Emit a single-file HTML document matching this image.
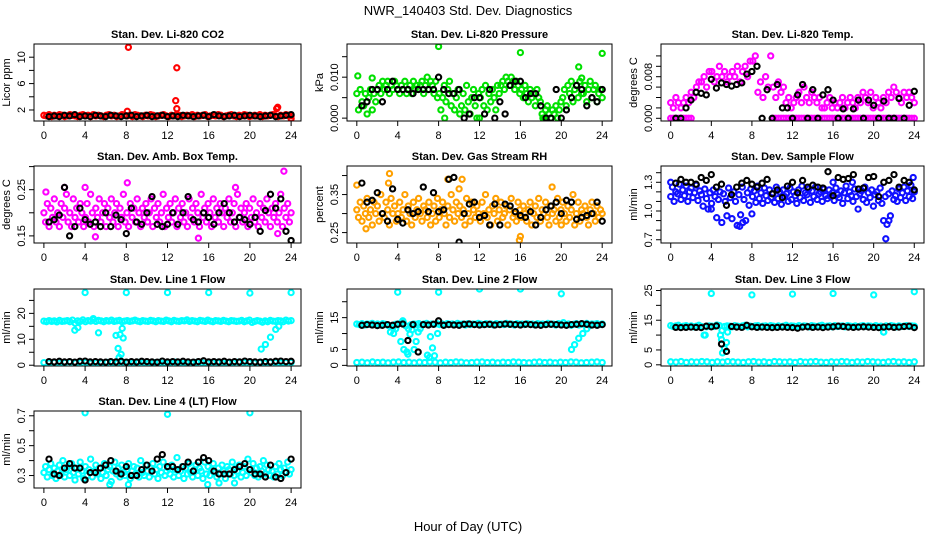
<!DOCTYPE html>
<html><head><meta charset="utf-8"><style>
html,body{margin:0;padding:0;background:#fff;}
svg{display:block;font-family:"Liberation Sans",sans-serif;}
</style></head><body>
<svg id="chart" width="936" height="540" viewBox="0 0 936 540" xmlns="http://www.w3.org/2000/svg">
<rect width="936" height="540" fill="#fff"/>
<text x="468" y="15" text-anchor="middle" font-size="13">NWR_140403  Std. Dev. Diagnostics</text>
<text x="468" y="531" text-anchor="middle" font-size="13">Hour of Day (UTC)</text>
</svg>
<script>
// ---- data ----
const hourTicks = [0,4,8,12,16,20,24];
// CO2
const co2Color = [1.2,1.1,1.3,1.0,1.2,1.1,1.3,1.2,1.0,1.1,1.3,1.2,1.1,1.0,1.2,1.3,1.1,1.2,1.0,1.3,1.1,1.2,1.1,1.0,1.2,1.3,1.1,1.2,1.0,1.1,1.3,1.2,1.1,1.2,1.0,1.3,1.2,1.1,1.0,1.2,1.1,1.3,1.2,1.0,1.1,1.2,1.3,1.1,1.0,1.2,1.1,1.3,1.2,1.0,1.1,1.2,1.1,1.3,1.0,1.2,1.1,1.2,1.3,1.0,1.1,1.2,1.1,1.3,1.2,1.0,1.1,1.2,1.3,1.1,1.0,1.2,1.1,1.3,1.2,1.0,1.1,1.2,1.1,1.3,1.0,1.2,1.1,1.2,1.3,1.1,1.0,1.2,1.1,1.3,1.2,1.1];
const co2ExtraHours = [8.2,8.1,12.9,12.8,12.9,22.7,22.6,24.0];
const co2Extra = [11.5,1.8,8.4,3.4,2.2,2.4,2.2,0.7];
const co2Black = [1.0,1.1,1.0,1.2,1.1,1.3,1.0,1.1,1.0,1.2,1.1,1.0,1.2,1.1,1.0,1.1,1.2,1.0,1.1,1.2,1.0,1.1,1.2,1.0,1.1,1.0,1.2,1.1,1.0,1.1,1.2,1.0,1.3,1.1,1.0,1.1,1.2,1.0,1.1,1.2,1.1,1.0,1.1,1.2,1.0,1.1,1.2,1.3];
// Pressure
const presColor = [0.006,0.002,0.007,0.004,0.003,0.006,0.001,0.005,0.007,0.002,0.006,0.004,
0.007,0.008,0.006,0.009,0.007,0.008,0.009,0.006,0.008,0.007,0.009,0.008,
0.007,0.006,0.008,0.007,0.009,0.006,0.007,0.008,0.006,0.009,0.007,0.008,
0.007,0.008,0.009,0.006,0.008,0.010,0.007,0.009,0.008,0.006,0.009,0.005,
0.006,0.002,0.005,0.008,0.004,0.007,0.009,0.003,0.006,0.002,0.005,0.007,
0.001,0.003,0.006,0.002,0.008,0.004,0.001,0.005,0.007,0.003,0.000,0.006,
0.005,0.007,0.003,0.008,0.002,0.006,0.004,0.007,0.005,0.002,0.008,0.006,
0.008,0.009,0.007,0.010,0.009,0.008,0.010,0.009,0.007,0.009,0.008,0.006,
0.007,0.005,0.008,0.006,0.004,0.007,0.005,0.006,0.003,0.007,0.005,0.004,
0.001,0.000,0.002,0.003,0.001,0.000,0.002,0.001,0.003,0.000,0.002,0.004,
0.005,0.007,0.003,0.008,0.006,0.009,0.004,0.007,0.008,0.005,0.009,0.006,
0.006,0.008,0.004,0.007,0.009,0.005,0.007,0.008,0.004,0.006,0.007,0.005];
const presExtraHours = [0.1,1.5,8.0,16.0,24.0,21.7,22.0,8.6,12.0,18.2];
const presExtra = [0.0103,0.0098,0.0175,0.016,0.0158,0.0125,0.0098,0.0,0.0,0.0];
const presBlack = [0.003,0.004,0.007,0.007,0.004,0.007,0.009,0.007,0.007,0.007,0.006,0.007,0.007,0.007,0.007,0.010,0.007,0.006,0.006,0.007,0.0,0.001,0.005,0.005,0.001,0.007,0.0,0.004,0.001,0.008,0.009,0.009,0.005,0.006,0.006,0.003,0.0,0.0,0.007,0.0,0.002,0.005,0.008,0.007,0.003,0.005,0.004,0.007];
// Li-820 temp
const tempColor = [0.003,0.002,0.004,0.003,0.002,0.003,0.004,0.003,
0.005,0.004,0.006,0.007, 0.007,0.008,0.006,0.009, 0.009,0.007,0.008,0.010, 0.008,0.009,0.007,0.008,
0.009,0.008,0.010,0.007, 0.009,0.010,0.008,0.011, 0.011,0.012,0.005,0.007, 0.004,0.008,0.006,0.012,
0.006,0.004,0.007,0.005, 0.006,0.003,0.004,0.002, 0.003,0.004,0.005,0.003, 0.006,0.004,0.003,0.005,
0.004,0.003,0.004,0.002, 0.002,0.003,0.004,0.002, 0.003,0.002,0.003,0.004, 0.002,0.003,0.004,0.003,
0.002,0.004,0.003,0.005, 0.004,0.003,0.005,0.002, 0.004,0.003,0.002,0.004, 0.003,0.005,0.004,0.006,
0.005,0.004,0.003,0.005, 0.004,0.005,0.004,0.003];
const tempZero = [0,0,0,0,0,0,0,0,0,null,null,null,null,null,null,null,null,null,null,null,null,null,null,null,null,null,null,null,null,null,null,null,null,null,null,null,null,null,null,null,0,0,0,0,0,0,0,0,0,0,0,0,0,0,0,0,0,0,0,0,0,0,0,0,0,0,0,0,0,0,0,0,0,0,0,0,0,0,0,0,0,0,0,0,0,0,0,0,0,0,0,0,0,0,0,0];
const tempBlack = [0.0,0.0,0.002,0.0035,0.005,0.0048,0.0045,0.0075,0.0058,0.0068,0.0065,0.0062,0.0065,0.0068,0.0085,0.0090,0.0100,0.0,0.0055,0.0,0.0065,0.002,0.002,0.0,0.0045,0.0065,0.0,0.0055,0.0,0.0045,0.0055,0.0035,0.0,0.0018,0.0,0.0018,0.0035,0.0,0.0035,0.0025,0.0,0.0033,0.0,0.0,0.0038,0.0,0.0025,0.0052];
// Amb box temp
const ambColor = [.20,.18,.22,.17,.21,.19,.23,.18,.20,.17,.22,.19,
.21,.24,.18,.20,.17,.23,.19,.21,.18,.22,.20,.17,
.19,.22,.18,.24,.20,.17,.21,.19,.23,.18,.20,.22,
.17,.21,.19,.23,.18,.20,.22,.17,.21,.19,.24,.18,
.20,.17,.22,.19,.21,.18,.23,.20,.17,.21,.19,.22,
.18,.20,.23,.17,.21,.19,.22,.18,.20,.24,.17,.21,
.19,.22,.18,.20,.23,.17,.21,.19,.22,.18,.20,.17,
.23,.19,.21,.18,.22,.20,.17,.24,.19,.21,.18,.22,
.20,.17,.23,.19,.21,.18,.22,.20,.17,.21,.19,.23,
.18,.20,.22,.17,.24,.19,.21,.18,.20,.22,.17,.21,
.19,.23,.18,.20,.17,.22,.19,.21,.18,.23,.20,.17,
.21,.19,.22,.18,.20,.24,.17,.21,.19,.22,.18,.20];
const ambExtraHours = [0.2,2.0,8.1,4.0,15.0,23.3,18.6,5.0,22.7];
const ambExtra = [0.245,0.255,0.265,0.255,0.145,0.29,0.255,0.148,0.155];
const ambBlack = [0.18,0.185,0.195,0.255,0.15,0.17,0.21,0.185,0.175,0.18,0.17,0.2,0.17,0.195,0.185,0.155,0.21,0.18,0.175,0.2,0.235,0.175,0.17,0.175,0.2,0.175,0.2,0.235,0.185,0.18,0.2,0.19,0.175,0.2,0.22,0.2,0.18,0.19,0.185,0.175,0.19,0.16,0.205,0.24,0.21,0.23,0.16,0.14];
// RH
const rhColor = [.31,.29,.33,.28,.32,.30,.34,.29,.31,.27,.33,.30,
.32,.28,.35,.30,.29,.33,.31,.27,.34,.30,.32,.28,
.30,.33,.29,.31,.35,.28,.32,.30,.27,.33,.29,.31,
.34,.30,.28,.32,.31,.29,.33,.27,.30,.32,.28,.34,
.29,.31,.33,.30,.27,.32,.29,.35,.31,.28,.33,.30,
.32,.29,.31,.27,.34,.30,.28,.33,.31,.29,.32,.30,
.28,.33,.30,.35,.29,.31,.27,.32,.30,.34,.28,.31,
.33,.29,.30,.32,.27,.31,.34,.29,.30,.28,.33,.31,
.29,.32,.30,.28,.31,.33,.27,.30,.32,.29,.34,.28,
.31,.30,.33,.29,.27,.32,.30,.31,.28,.34,.29,.31,
.33,.30,.28,.32,.29,.31,.35,.27,.30,.33,.28,.31,
.30,.32,.29,.27,.31,.33,.30,.28,.32,.29,.31,.30];
const rhExtraHours = [0.0,3.2,3.1,8.9,10.3,10.0,15.9,16.0,19.1,0.9,20.0];
const rhExtra = [0.375,0.405,0.38,0.39,0.39,0.365,0.23,0.24,0.37,0.26,0.27];
const rhBlack = [0.38,0.33,0.335,0.355,0.30,0.28,0.365,0.285,0.275,0.31,0.30,0.305,0.37,0.305,0.355,0.305,0.31,0.39,0.395,0.225,0.30,0.325,0.33,0.29,0.295,0.27,0.325,0.27,0.325,0.32,0.305,0.295,0.29,0.305,0.27,0.29,0.31,0.32,0.33,0.30,0.335,0.33,0.285,0.29,0.295,0.30,0.33,0.28];
// Sample flow
const flowColor = [1.15,1.25,1.10,1.20,1.18,1.28,1.12,1.22,1.16,1.26,1.10,1.20,
1.24,1.14,1.19,1.27,1.11,1.21,1.17,1.05,1.23,1.13,1.02,1.19,
1.08,1.22,1.15,0.93,1.12,1.20,0.88,1.18,1.10,0.95,1.24,1.14,
0.92,1.20,1.10,0.85,1.17,0.96,1.25,1.12,0.90,1.19,1.06,1.23,
1.15,1.21,1.09,1.26,1.13,1.19,1.08,1.24,1.16,1.11,1.22,1.14,
1.18,1.09,1.25,1.13,1.20,1.07,1.22,1.15,1.18,1.10,1.24,1.12,
1.20,1.16,1.08,1.22,1.14,1.26,1.11,1.19,1.17,1.23,1.09,1.21,
1.15,1.25,1.12,1.18,1.20,1.10,1.23,1.16,1.13,1.22,1.15,1.19,
1.11,1.24,1.17,1.14,1.21,1.08,1.19,1.26,1.13,1.20,1.16,1.10,
1.23,1.15,1.02,1.18,1.21,1.12,1.25,1.09,1.19,1.14,1.22,1.05,
1.17,1.20,1.11,1.24,1.08,0.90,1.15,0.86,1.18,0.95,1.21,1.12,
1.16,1.10,1.23,1.14,1.19,1.25,1.11,1.21,1.15,1.27,1.13,1.20];
const flowExtraHours = [21.2,6.8,7.1,21.5,0.0,16.0,17.9,23.9,8.0,4.0];
const flowExtra = [0.71,0.84,0.88,0.90,1.30,1.30,1.30,1.35,0.97,1.02];
const flowBlack = [1.29,1.33,1.30,1.30,1.28,1.35,1.32,1.38,1.25,1.28,1.06,1.17,1.25,1.29,1.32,1.28,1.25,1.29,1.33,1.18,1.22,1.14,1.26,1.30,1.19,1.32,1.25,1.27,1.25,1.24,1.41,1.16,1.35,1.33,1.34,1.38,1.23,1.24,1.35,1.36,1.15,1.30,1.32,1.38,1.25,1.32,1.30,1.22];
// Line 1
const l1Upper = [17.0,16.8,17.2,16.9,17.1,16.7,17.3,16.9,17.0,17.2,16.8,17.4,16.2,17.1,16.9,17.5,16.8,17.2,17.0,17.6,16.9,17.3,17.1,16.8,17.2,17.0,17.4,16.9,17.1,17.3,16.8,17.0,17.2,16.9,17.1,17.4,17.0,16.8,17.2,17.0,16.9,17.3,17.1,16.8,17.2,17.0,16.9,17.4,17.1,16.8,17.3,17.0,16.9,17.2,17.1,17.5,16.9,17.2,17.0,16.8,17.3,17.1,16.9,17.4,17.0,16.8,17.2,17.1,16.9,17.3,17.0,16.8,17.2,17.1,16.9,17.0,17.3,16.8,17.1,17.4,16.5,16.9,17.2,17.0,16.6,17.1,16.8,17.3,17.0,16.9,17.2,17.1,16.8,17.4,17.0,17.2];
const l1Lower = [1.0,0.9,1.1,0.8,1.0,1.2,0.9,1.0,1.1,0.8,1.0,0.9,1.1,1.0,0.8,1.2,1.0,0.9,1.1,1.0,0.8,1.0,1.1,0.9,1.0,1.2,0.9,1.0,0.8,1.1,1.0,0.9,1.0,1.1,0.8,1.0,0.9,1.2,1.0,1.1,0.9,1.0,0.8,1.1,1.0,0.9,1.0,1.1];
const l1ExtraHours = [3.0,3.3,5.3,7.0,7.2,7.4,7.6,7.5,7.3,7.7,4.0,8.0,12.0,16.0,20.0,24.0,21.1,21.5,22.0,22.5,22.8,4.8];
const l1Extra = [13.5,14.5,12.5,11.5,6.5,11.8,14.2,4.2,3.0,10.5,28,28,28,28,27.8,28,6.2,8.0,10.8,13.8,15.0,18.0];
const l1Black = [1.4,1.3,1.5,1.3,1.4,1.2,1.5,1.6,1.3,1.4,1.3,1.2,1.4,1.3,1.5,1.2,1.4,1.3,1.5,1.4,1.3,1.2,1.6,1.3,1.4,1.3,1.5,1.3,1.2,1.4,1.7,1.3,1.4,1.3,1.5,1.2,1.4,1.3,1.6,1.4,1.3,1.2,1.4,1.3,1.5,1.6,1.4,1.5];
// Line 2
const l2Upper = [13.0,12.8,13.1,12.7,13.0,12.9,13.2,12.8,13.0,12.7,13.1,12.9,12.6,10.5,11.8,12.9,13.0,13.2,13.5,12.4,11.5,12.8,13.0,12.9,13.1,12.7,13.0,13.2,12.8,13.0,12.9,13.1,12.8,13.0,12.7,13.1,12.9,13.0,12.8,13.2,12.9,13.0,12.7,13.1,12.8,13.0,12.9,13.2,13.0,12.8,13.1,12.9,13.0,12.7,13.1,12.9,13.0,12.8,13.2,12.9,13.0,12.7,13.1,12.9,13.0,12.8,13.1,12.9,13.0,12.7,13.1,12.9,13.0,12.8,13.2,12.9,13.0,12.7,13.1,12.9,13.4,12.8,13.0,12.6,12.9,13.1,12.7,13.0,12.9,13.2,12.8,13.0,12.9,13.1,12.8,13.0];
const l2Lower = [0.9,1.0,0.8,1.1,0.9,1.0,0.8,1.0,1.1,0.9,1.0,0.8,1.0,0.9,1.1,1.0,0.8,1.0,0.9,1.1,1.0,0.8,0.9,1.0,1.1,0.9,1.0,0.8,1.0,0.9,1.1,1.0,0.9,0.8,1.0,1.1,0.9,1.0,0.8,1.0,0.9,1.1,1.0,0.8,0.9,1.0,1.1,0.9];
const l2ExtraHours = [3.6,3.8,4.0,4.3,4.6,4.9,5.0,5.2,5.4,5.6,5.8,6.0,6.2,6.9,7.1,7.2,7.4,7.6,7.9,8.0,12.0,16.0,20.0,24.0,21.0,21.3,21.7,22.1,22.5,22.8,4.5];
const l2Extra = [10.0,11.5,23,7.5,5.0,4.2,3.5,9.8,11.2,5.0,7.5,10.5,11.5,3.2,2.5,9.0,5.5,3.0,10.0,23,24,24,22.5,25.2,5.0,6.5,8.5,10.0,11.5,12.5,14.0];
const l2Black = [12.6,12.8,12.7,12.5,12.6,12.8,12.6,12.9,13.0,7.8,12.8,4.2,12.8,12.7,12.9,14.0,12.6,12.8,12.7,12.6,12.9,13.0,12.8,12.7,12.8,12.9,12.7,12.8,13.0,12.9,12.8,12.7,12.9,12.8,12.7,12.6,12.8,12.9,12.8,12.7,12.6,12.8,12.9,13.1,12.9,12.7,12.6,12.8];
// Line 3
const l3Upper = [13.2,12.9,13.1,13.3,12.8,13.0,13.2,12.9,13.1,12.8,13.0,13.3,12.9,10.0,12.8,13.1,13.0,12.9,13.4,13.2,11.5,12.9,13.1,13.0,12.8,13.2,13.0,12.9,13.1,13.3,12.8,13.0,12.9,13.1,13.2,12.8,13.0,13.1,12.9,13.2,13.0,12.8,13.1,12.9,13.0,13.3,12.9,13.1,13.0,12.8,13.2,12.9,13.1,13.0,12.8,13.2,13.0,12.9,13.1,13.3,12.9,13.0,13.1,12.8,13.2,12.9,13.0,13.1,12.8,13.2,13.0,12.9,13.1,12.8,13.0,13.2,12.9,13.1,13.0,12.8,13.2,12.9,13.0,11.0,13.1,12.9,13.2,13.0,12.8,13.1,12.9,13.0,13.2,12.9,13.1,13.0];
const l3Lower = [1.0,0.9,1.1,0.8,1.0,0.9,1.1,1.0,0.8,1.0,0.9,1.1,1.0,0.9,0.8,1.0,1.1,0.9,1.0,0.8,1.1,1.0,0.9,1.0,0.8,1.1,0.9,1.0,1.1,0.9,0.8,1.0,0.9,1.1,1.0,0.8,1.0,0.9,1.1,1.0,0.9,0.8,1.0,1.1,0.9,1.0,0.8,1.0];
const l3ExtraHours = [4.0,4.9,5.0,5.1,5.3,5.5,5.6,3.4,8.0,12.0,16.0,20.0,24.0,21.0];
const l3Extra = [24,10,8.5,4,5.5,7.5,11,10,23.5,23.8,24,23.5,24.6,11];
const l3Black = [12.6,12.5,12.6,12.7,12.6,12.5,13.0,12.8,13.1,7.0,4.5,12.9,12.7,12.6,13.3,12.8,12.6,12.7,12.6,12.5,12.6,12.7,12.6,12.5,12.3,12.7,12.8,12.6,12.7,12.5,12.7,12.8,13.0,12.9,12.7,12.6,12.7,12.8,12.7,12.6,12.5,12.7,12.8,12.6,12.7,12.9,13.0,12.5];
// Line 4
const l4Color = [.32,.36,.29,.34,.38,.30,.35,.28,.33,.37,.31,.40,
.29,.34,.36,.30,.38,.32,.27,.35,.31,.39,.33,.28,
.36,.30,.34,.41,.29,.33,.37,.31,.35,.28,.32,.38,
.30,.34,.36,.26,.33,.39,.31,.35,.29,.37,.32,.30,
.34,.38,.28,.33,.36,.31,.35,.29,.40,.32,.30,.37,
.33,.29,.35,.38,.31,.34,.28,.36,.32,.39,.30,.33,
.35,.31,.37,.29,.34,.42,.30,.33,.36,.28,.35,.31,
.38,.32,.29,.34,.37,.30,.35,.33,.28,.39,.31,.36,
.30,.34,.38,.32,.29,.35,.31,.37,.33,.28,.36,.34,
.31,.39,.30,.35,.33,.37,.29,.32,.36,.30,.41,.34,
.32,.38,.30,.35,.29,.36,.33,.40,.31,.37,.34,.30,
.33,.29,.36,.31,.38,.34,.30,.35,.32,.39,.31,.34];
const l4ExtraHours = [4.0,12.0,20.0,6.4,8.2,15.9,17.0,18.5];
const l4Extra = [0.72,0.71,0.72,0.24,0.24,0.24,0.25,0.25];
const l4Black = [0.41,0.31,0.30,0.35,0.38,0.35,0.35,0.27,0.32,0.32,0.35,0.37,0.40,0.33,0.31,0.36,0.30,0.30,0.34,0.37,0.33,0.41,0.44,0.36,0.36,0.34,0.36,0.39,0.33,0.39,0.42,0.40,0.33,0.31,0.31,0.31,0.34,0.36,0.38,0.34,0.31,0.31,0.29,0.37,0.29,0.28,0.32,0.41];

// ---- layout ----
const NS = 'http://www.w3.org/2000/svg';
const svg = document.getElementById('chart');
const colL = [34,347,661], colR = [301,612,924];
const rowT = [44,166,289,411], boxH = 77;

const panels = [
 {name:'co2', title:'Stan. Dev. Li-820 CO2', ylab:'Licor ppm', col:0,row:0, ymin:0.33,ymax:12.0, ticks:[2,4,6,8,10], labels:['2','','6','','10'], color:'#ff0000',
  series:[co2Color], extraH:co2ExtraHours, extra:co2Extra, black:co2Black},
 {name:'pressure', title:'Stan. Dev. Li-820 Pressure', ylab:'kPa', col:1,row:0, ymin:-0.0007,ymax:0.0181, ticks:[0,0.005,0.01,0.015], labels:['0.000','','0.010',''], color:'#00e000',
  series:[presColor], extraH:presExtraHours, extra:presExtra, black:presBlack},
 {name:'li820-temp', title:'Stan. Dev. Li-820 Temp.', ylab:'degrees C', col:2,row:0, ymin:-0.00052,ymax:0.01429, ticks:[0,0.002,0.004,0.006,0.008,0.010,0.012], labels:['0.000','','','','0.008','',''], color:'#ff00ff',
  series:[tempColor,tempZero], extraH:[], extra:[], black:tempBlack},
 {name:'amb-box-temp', title:'Stan. Dev. Amb. Box Temp.', ylab:'degrees C', col:0,row:1, ymin:0.1346,ymax:0.3013, ticks:[0.15,0.20,0.25,0.30], labels:['0.15','','0.25',''], color:'#ff00ff',
  series:[ambColor], extraH:ambExtraHours, extra:ambExtra, black:ambBlack},
 {name:'gas-stream-rh', title:'Stan. Dev. Gas Stream RH', ylab:'percent', col:1,row:1, ymin:0.2226,ymax:0.4251, ticks:[0.25,0.30,0.35,0.40], labels:['0.25','','0.35',''], color:'#ffa000',
  series:[rhColor], extraH:rhExtraHours, extra:rhExtra, black:rhBlack},
 {name:'sample-flow', title:'Stan. Dev. Sample Flow', ylab:'ml/min', col:2,row:1, ymin:0.666,ymax:1.47, ticks:[0.7,0.8,0.9,1.0,1.1,1.2,1.3,1.4], labels:['0.7','','','1.0','','','1.3',''], color:'#1010ff',
  series:[flowColor], extraH:flowExtraHours, extra:flowExtra, black:flowBlack},
 {name:'line1-flow', title:'Stan. Dev. Line 1 Flow', ylab:'ml/min', col:0,row:2, ymin:-0.3,ymax:29.4, ticks:[0,5,10,15,20,25], labels:['0','','10','','20',''], color:'#00ffff',
  series:[l1Upper,l1Lower], extraH:l1ExtraHours, extra:l1Extra, black:l1Black},
 {name:'line2-flow', title:'Stan. Dev. Line 2 Flow', ylab:'ml/min', col:1,row:2, ymin:-0.2,ymax:24.0, ticks:[0,5,10,15,20], labels:['0','5','','15',''], color:'#00ffff',
  series:[l2Upper,l2Lower], extraH:l2ExtraHours, extra:l2Extra, black:l2Black},
 {name:'line3-flow', title:'Stan. Dev. Line 3 Flow', ylab:'ml/min', col:2,row:2, ymin:-0.4,ymax:25.5, ticks:[0,5,10,15,20,25], labels:['0','5','','15','','25'], color:'#00ffff',
  series:[l3Upper,l3Lower], extraH:l3ExtraHours, extra:l3Extra, black:l3Black},
 {name:'line4-flow', title:'Stan. Dev. Line 4 (LT) Flow', ylab:'ml/min', col:0,row:3, ymin:0.2166,ymax:0.732, ticks:[0.3,0.4,0.5,0.6,0.7], labels:['0.3','','0.5','','0.7'], color:'#00ffff',
  series:[l4Color], extraH:l4ExtraHours, extra:l4Extra, black:l4Black}
];

function mk(tag, attrs, parent){
  const e = document.createElementNS(NS, tag);
  for (const k in attrs) e.setAttribute(k, attrs[k]);
  (parent||svg).appendChild(e);
  return e;
}

panels.forEach(p => {
  const L = colL[p.col], R = colR[p.col], T = rowT[p.row], B = T + boxH;
  const xs = h => L + (h + 0.96) / 25.92 * (R - L);
  const ys = v => B - (v - p.ymin) / (p.ymax - p.ymin) * boxH;
  const g = mk('g', {});
  
  

  const t = mk('text', {x:(L+R)/2, y:T-6, 'text-anchor':'middle', 'font-size':11, 'font-weight':'bold'}, g);
  
  
  t.textContent = p.title;

  const clipId = 'clip-' + p.name;
  const cp = mk('clipPath', {id:clipId}, g);
  mk('rect', {x:L, y:T, width:R-L, height:boxH}, cp);
  const pts = mk('g', {'clip-path':'url(#'+clipId+')', fill:'none'}, g);
  
  

  function dot(h, v, col, nm){
    const c = mk('circle', {cx:xs(h).toFixed(1), cy:ys(v).toFixed(1), r:2.6, stroke:col, 'stroke-width':2.1}, pts);
    
    
  }
  p.series.forEach(arr => {
    const n = arr.length;
    arr.forEach((v, i) => { if (v !== null) dot(i * 24 / (n - 1), v, p.color, p.name + '-point'); });
  });
  p.extra.forEach((v, i) => dot(p.extraH[i], v, p.color, p.name + '-point'));
  const nb = p.black.length;
  p.black.forEach((v, i) => { if (v !== null) dot(0.5 + i * 23.5 / (nb - 1), v, '#000', p.name + '-black-point'); });

  const box = mk('rect', {x:L, y:T, width:R-L, height:boxH, fill:'none', stroke:'#000', 'stroke-width':1}, g);
  
  

  hourTicks.forEach(h => {
    mk('line', {x1:xs(h), x2:xs(h), y1:B, y2:B+5, stroke:'#000'}, g);
    const tl = mk('text', {x:xs(h), y:B+18, 'text-anchor':'middle', 'font-size':11}, g);
    
    
    tl.textContent = h;
  });
  p.ticks.forEach((v, i) => {
    const y = ys(v);
    mk('line', {x1:L-5, x2:L, y1:y, y2:y, stroke:'#000'}, g);
    if (p.labels[i]) {
      const tl = mk('text', {x:0, y:0, 'text-anchor':'middle', 'font-size':11, transform:'translate('+(L-9)+','+y+') rotate(-90)'}, g);
      
      
      tl.textContent = p.labels[i];
    }
  });
  const yl = mk('text', {x:0, y:0, 'text-anchor':'middle', 'font-size':11, transform:'translate('+(L-24)+','+(T+boxH/2)+') rotate(-90)'}, g);
  
  
  yl.textContent = p.ylab;
});
</script>
</body></html>
